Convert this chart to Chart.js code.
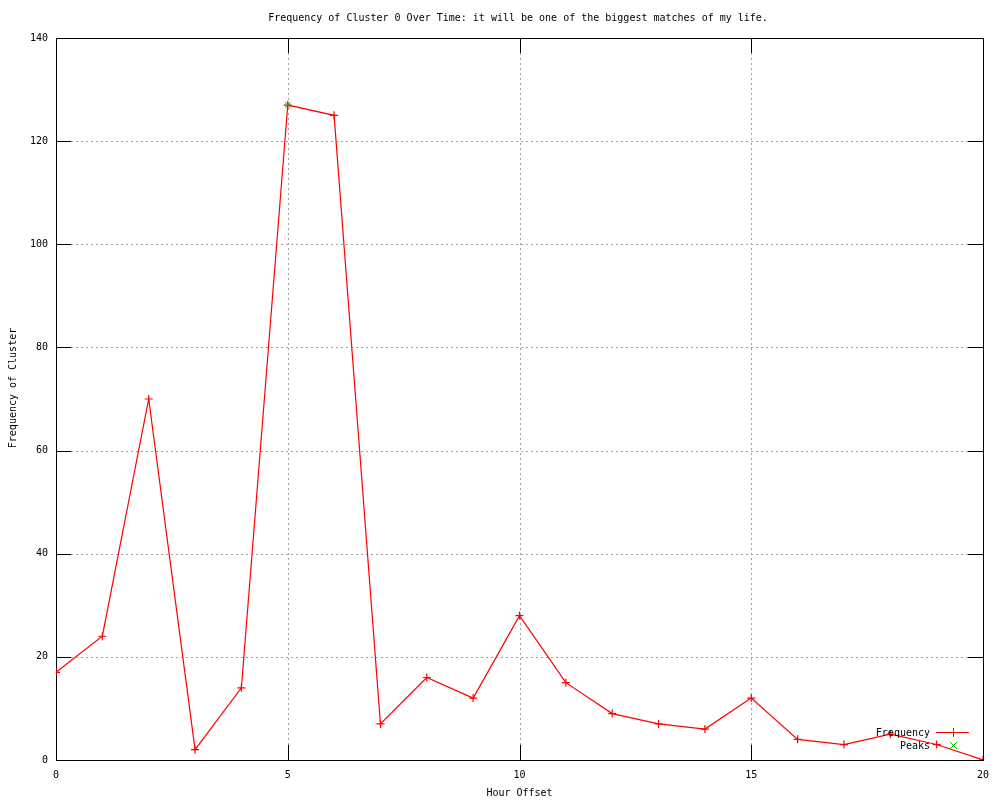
<!DOCTYPE html>
<html>
<head>
<meta charset="utf-8">
<script src="https://cdn.jsdelivr.net/npm/chart.js@4/dist/chart.umd.min.js"></script>
<style>
  body { margin: 0; background: #fff; }
  #wrap { width: 1000px; height: 800px; }
</style>
</head>
<body>
<div id="wrap"><canvas id="myChart" width="1000" height="800"></canvas></div>
<script>
// datos
const horas = [0, 1, 2, 3, 4, 5, 6, 7, 8, 9, 10, 11, 12, 13, 14, 15, 16, 17, 18, 19, 20];
const frecuencia = [17, 24, 70, 2, 14, 127, 125, 7, 16, 12, 28, 15, 9, 7, 6, 12, 4, 3, 5, 3, 0];
const picosX = [5];
const picosY = [127];
const xTicks = [0, 5, 10, 15, 20];
const yTicks = [0, 20, 40, 60, 80, 100, 120, 140];

const titulo = "Frequency of Cluster 0 Over Time: it will be one of the biggest matches of my life.";
const fuente = "10px 'DejaVu Sans Mono', monospace";

// grilla punteada, marcas y textos estilo gnuplot
const gnuplotStyle = {
  id: "gnuplotStyle",
  beforeDatasetsDraw(chart) {
    const ctx = chart.ctx;
    const a = chart.chartArea;
    const xs = chart.scales.x;
    const ys = chart.scales.y;
    ctx.save();
    ctx.lineWidth = 1;
    ctx.strokeStyle = "#a0a0a0";
    ctx.setLineDash([2, 3]);
    yTicks.forEach(v => {
      if (v === 0 || v === 140) return;
      const y = Math.round(ys.getPixelForValue(v)) + 0.5;
      ctx.beginPath(); ctx.moveTo(a.left, y); ctx.lineTo(a.right, y); ctx.stroke();
    });
    xTicks.forEach(v => {
      if (v === 0 || v === 20) return;
      const x = Math.round(xs.getPixelForValue(v)) + 0.5;
      ctx.beginPath(); ctx.moveTo(x, a.top); ctx.lineTo(x, a.bottom); ctx.stroke();
    });
    ctx.setLineDash([]);
    ctx.strokeStyle = "#000";
    yTicks.forEach(v => {
      const y = Math.round(ys.getPixelForValue(v)) + 0.5;
      ctx.beginPath();
      ctx.moveTo(a.left, y); ctx.lineTo(a.left + 15, y);
      ctx.moveTo(a.right, y); ctx.lineTo(a.right - 15, y);
      ctx.stroke();
    });
    xTicks.forEach(v => {
      const x = Math.round(xs.getPixelForValue(v)) + 0.5;
      ctx.beginPath();
      ctx.moveTo(x, a.bottom); ctx.lineTo(x, a.bottom - 15);
      ctx.moveTo(x, a.top); ctx.lineTo(x, a.top + 15);
      ctx.stroke();
    });
    ctx.strokeRect(Math.round(a.left) + 0.5, Math.round(a.top) + 0.5,
      Math.round(a.right - a.left), Math.round(a.bottom - a.top));
    ctx.restore();
  },
  afterDraw(chart) {
    const ctx = chart.ctx;
    const a = chart.chartArea;
    ctx.save();
    ctx.font = fuente;
    ctx.fillStyle = "#000";
    ctx.textBaseline = "middle";
    ctx.textAlign = "center";
    ctx.fillText(titulo, 518, 18);
    ctx.fillText("Hour Offset", (a.left + a.right) / 2, 793);
    ctx.save();
    ctx.translate(13, 388);
    ctx.rotate(-Math.PI / 2);
    ctx.fillText("Frequency of Cluster", 0, 0);
    ctx.restore();

    // leyenda
    ctx.textAlign = "right";
    ctx.fillText("Frequency", 930, 733);
    ctx.fillText("Peaks", 930, 746);
    ctx.strokeStyle = "#ff0000";
    ctx.lineWidth = 1;
    ctx.beginPath();
    ctx.moveTo(936, 732.5); ctx.lineTo(969, 732.5);
    ctx.moveTo(953.5, 728); ctx.lineTo(953.5, 737);
    ctx.stroke();
    ctx.strokeStyle = "#00c000";
    ctx.beginPath();
    ctx.moveTo(950, 742); ctx.lineTo(957, 749);
    ctx.moveTo(957, 742); ctx.lineTo(950, 749);
    ctx.stroke();
    ctx.restore();
  }
};

const config = {
  type: "line",
  data: {
    datasets: [
      {
        label: "Peaks",
        data: picosX.map((x, i) => ({ x, y: picosY[i] })),
        showLine: false,
        pointStyle: "crossRot",
        pointRadius: 4,
        borderColor: "#00c000",
        borderWidth: 1,
        order: 0
      },
      {
        label: "Frequency",
        data: horas.map((x, i) => ({ x, y: frecuencia[i] })),
        borderColor: "#ff0000",
        borderWidth: 1.2,
        pointStyle: "cross",
        pointRadius: 4,
        pointBorderColor: "#ff0000",
        pointBorderWidth: 1.2,
        tension: 0,
        order: 1
      }
    ]
  },
  options: {
    responsive: false,
    animation: false,
    layout: { padding: { left: 0, right: 17, top: 38, bottom: 0 } },
    plugins: { legend: { display: false }, title: { display: false }, tooltip: { enabled: false } },
    scales: {
      x: {
        type: "linear",
        min: 0, max: 20,
        afterFit: (s) => { s.height = 40; },
        afterBuildTicks: (s) => { s.ticks = xTicks.map(v => ({ value: v })); },
        grid: { display: false },
        border: { display: false },
        ticks: { font: { family: "'DejaVu Sans Mono'", size: 10 }, color: "#000", padding: 1, maxRotation: 0 }
      },
      y: {
        min: 0, max: 140,
        afterFit: (s) => { s.width = 56; },
        afterBuildTicks: (s) => { s.ticks = yTicks.map(v => ({ value: v })); },
        grid: { display: false },
        border: { display: false },
        ticks: { font: { family: "'DejaVu Sans Mono'", size: 10 }, color: "#000", padding: 0 }
      }
    }
  },
  plugins: [gnuplotStyle]
};

new Chart(document.getElementById("myChart"), config);
</script>
</body>
</html>
